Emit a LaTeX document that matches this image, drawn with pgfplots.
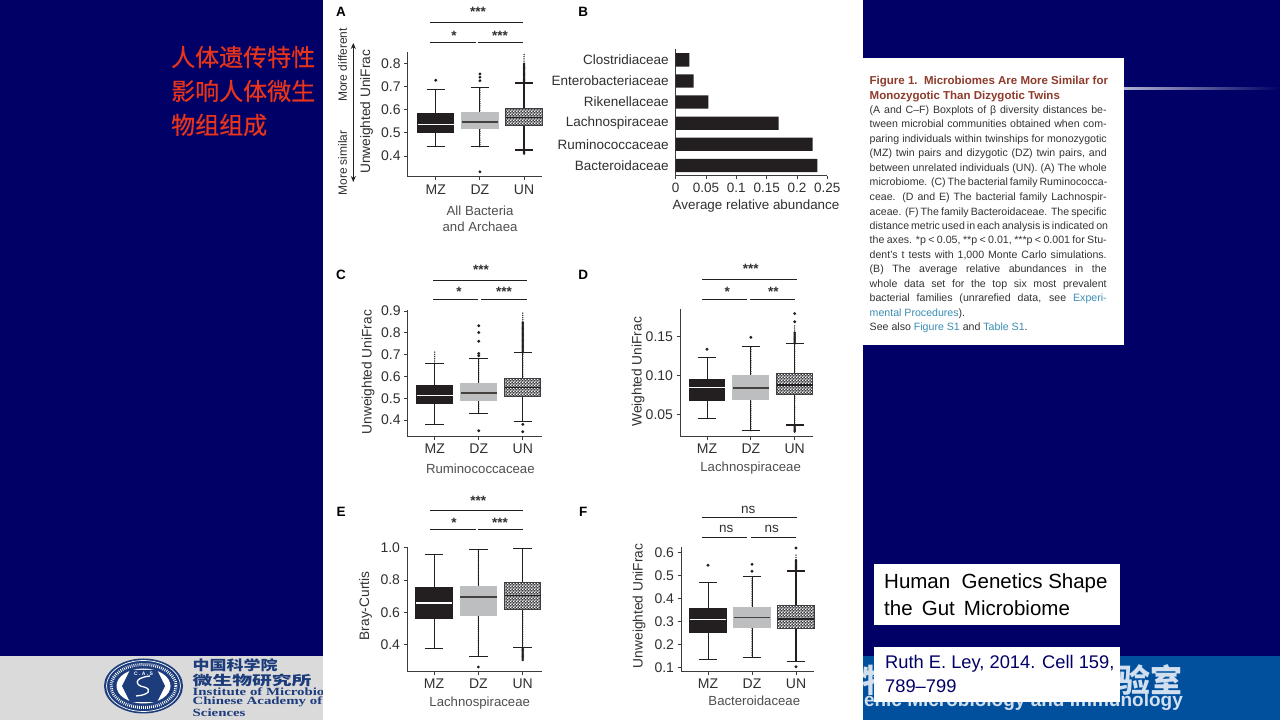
\documentclass[border=0pt]{standalone}
\usepackage{graphicx}
\usepackage{fontspec}
\usepackage{pgfplots}
\pgfplotsset{compat=1.18}
\usepgfplotslibrary{statistics}
\usetikzlibrary{patterns,arrows.meta}
\setmainfont{Liberation Sans}
\newfontfamily\cjk{Noto Sans CJK SC}
\newfontfamily\cjkm[FakeBold=0.4]{Noto Sans CJK SC}
\newfontfamily\srf{Liberation Serif}
\definecolor{navybg}{HTML}{000066}
\definecolor{bandblue}{HTML}{00509E}
\definecolor{bandgray}{HTML}{DADADA}
\definecolor{txt}{HTML}{303032}
\definecolor{axc}{HTML}{3C3C3C}
\definecolor{mzc}{HTML}{231F20}
\definecolor{dzc}{HTML}{BDBEC0}
\definecolor{unc}{HTML}{3E3E42}
\definecolor{capc}{HTML}{333333}
\definecolor{capt}{HTML}{8E3B2C}
\definecolor{lnk}{HTML}{3A8DB5}
\definecolor{logoc}{HTML}{1C3C7C}
\definecolor{redt}{HTML}{E8341A}
\newcommand{\fs}[2]{\fontsize{#1}{#2}\selectfont}
\pgfdeclarepatternformonly{chk}{\pgfqpoint{0pt}{0pt}}{\pgfqpoint{2.8pt}{2.8pt}}{\pgfqpoint{2.8pt}{2.8pt}}{%
 \pgfpathrectangle{\pgfqpoint{0pt}{0pt}}{\pgfqpoint{1.5pt}{1.5pt}}%
 \pgfpathrectangle{\pgfqpoint{1.4pt}{1.4pt}}{\pgfqpoint{1.4pt}{1.4pt}}%
 \pgfusepath{fill}}
\pgfplotsset{
 pan/.style={scale only axis,anchor=south west,axis lines=left,enlargelimits=false,clip=false,
  axis line style={-,draw=axc,line width=1pt},
  tick style={draw=axc,line width=.9pt},tick align=outside,major tick length=3.5pt,
  xtick={0,1,2},xticklabels={MZ,DZ,UN},
  tick label style={font=\fs{14}{16},text=txt},
  xtick pos=left,ytick pos=left,
  boxplot/draw direction=y,boxplot/box extend=.82,boxplot/whisker extend=.42},
 ylab/.style n args={3}{ylabel={#1},every axis y label/.style={at={(axis description cs:#2,#3)},rotate=90,anchor=center,font=\fs{13.7}{15.5},text=txt}},
 xlb/.style 2 args={every axis x label/.style={at={(axis description cs:#1,#2)},anchor=center,align=center,font=\fs{13.2}{15.5},text=txt!85!white}},
 outl/.style={mark=*,mark size=.9pt,mark options={fill=mzc,draw=mzc,solid}},
 mzb/.style={draw=mzc,line width=1pt,outl,
  boxplot/every box/.style={draw=mzc,fill=mzc},
  boxplot/every median/.style={draw=white,line width=1.2pt},
  boxplot/every whisker/.style={draw=mzc,line width=1pt}},
 dzb/.style={draw=mzc,line width=1pt,outl,
  boxplot/every box/.style={draw=dzc,fill=dzc},
  boxplot/every median/.style={draw=mzc!85!white,line width=1.2pt},
  boxplot/every whisker/.style={draw=mzc,line width=1pt}},
 unb/.style={draw=mzc,line width=1pt,outl,
  boxplot/every box/.style={draw=unc,fill=unc,postaction={pattern=chk,pattern color=white}},
  boxplot/every median/.style={draw=mzc,line width=1.2pt},
  boxplot/every whisker/.style={draw=mzc,line width=1.2pt}},
 bead/.style={mzc,line width=1.5pt,line cap=round,dash pattern=on 0pt off 2.2pt,forget plot},
 dense/.style={mzc,line width=2.6pt,line cap=round,dash pattern=on 0pt off 1.2pt,forget plot},
 gapl/.style={white,line width=1.4pt,dash pattern=on 1.2pt off 6pt,forget plot},
}
% pos, low whisker, q1, median, q3, up whisker, style, outliers
\newcommand{\bx}[8]{\addplot[#7,boxplot prepared={draw position=#1,lower whisker=#2,lower quartile=#3,median=#4,upper quartile=#5,upper whisker=#6}] coordinates {#8};}
\newcommand{\beads}[3]{\addplot[bead] coordinates {(#1,#2) (#1,#3)};}
\newcommand{\dens}[3]{\addplot[dense] coordinates {(#1,#2) (#1,#3)};}
\newcommand{\gapl}[3]{\addplot[gapl] coordinates {(#1,#2) (#1,#3)};}
\newcommand{\Stars}[3]{\node[anchor=base,inner sep=0,text=txt] at (#1,720-#2-7.5) {\fs{13.5}{15}\bfseries #3};}
\newcommand{\Ns}[3]{\node[inner sep=0,text=txt] at (#1,720-#2) {\fs{13.5}{15}#3};}
\newcommand{\Hl}[3]{\draw[mzc,line width=.9pt] (#1,720-#3) -- (#2,720-#3);}
\newcommand{\Let}[3]{\node[inner sep=0,text=black] at (#1,720-#2) {\fs{13.5}{15}\bfseries #3};}
\newcommand{\Jl}[2]{\node[anchor=base west,inner sep=0,text=capc] at (869.5,720-#1-3.5) {\fs{10.6}{12}\makebox[237pt][s]{#2}};}
\newcommand{\Ll}[2]{\node[anchor=base west,inner sep=0,text=capc] at (869.5,720-#1-3.5) {\fs{10.6}{12}#2};}
\newcommand{\Tl}[2]{\node[anchor=base west,inner sep=0,text=capt] at (869.5,720-#1-3.5) {\fs{11.5}{12}\bfseries #2};}
\begin{document}
\begin{tikzpicture}[x=1pt,y=1pt]
\clip (0,0) rectangle (1280,720);
\fill[navybg] (0,0) rectangle (1280,720);
% bottom bands
\fill[bandgray] (0,0) rectangle (323,64);
\fill[bandblue] (863,0) rectangle (1280,64);
\shade[left color=white!70!navybg,right color=navybg] (1124,630.6) rectangle (1280,632.6);
% logo
\fill[logoc] (143.5,34) ellipse [x radius=39.5,y radius=27.5];
\draw[white,line width=.7pt] (143.5,34) ellipse [x radius=37,y radius=25.5];
\draw[white,line width=3pt,dash pattern=on .8pt off 1.2pt] (143.5,34) ellipse [x radius=32.5,y radius=21.5];
\fill[white] (143.5,34) ellipse [x radius=27,y radius=17.5];
\fill[logoc] (122,34) -- (130,50) -- (157,50) -- (165,34) -- (157,18) -- (130,18) -- cycle;
\draw[white,line width=1.3pt] (150,44) .. controls (132,42) and (136,34) .. (144,33) .. controls (152,31) and (150,25) .. (136,24);
\node[inner sep=0,text=white] at (143.5,46) {\fs{5}{6}\bfseries C . A . S};
% logo text
\node[anchor=west,inner sep=0,text=logoc] at (192.5,55) {\scalebox{1.25}[1]{\cjk\fs{13.6}{15}\bfseries 中国科学院}};
\node[anchor=west,inner sep=0,text=logoc] at (192.5,39.7) {\scalebox{1.5}[1]{\cjk\fs{13.2}{15}\bfseries 微生物研究所}};
\node[anchor=west,inner sep=0,text=logoc] at (192.5,28) {\scalebox{1.35}[1]{\srf\fs{11}{12}\bfseries Institute of Microbio}};
\node[anchor=west,inner sep=0,text=logoc] at (192.5,18) {\scalebox{1.35}[1]{\srf\fs{11}{12}\bfseries Chinese Academy of}};
\node[anchor=west,inner sep=0,text=logoc] at (192.5,7) {\scalebox{1.35}[1]{\srf\fs{11}{12}\bfseries Sciences}};
% right band text
\node[anchor=east,inner sep=0,text=white!82!bandblue] at (1183,40) {\cjk\fs{32}{34}\bfseries 物与免疫学重点实验室};
\node[anchor=east,inner sep=0,text=white!82!bandblue] at (1183,18) {\fs{19}{21}\bfseries enic Microbiology and Immunology};
% white panels
\fill[white] (323,0) rectangle (863,720);
\fill[white] (863,375) rectangle (1124,662);
\fill[white] (874,95) rectangle (1120,156);
\fill[white] (874,18) rectangle (1120,73);
% red title
\node[anchor=west,inner sep=0,text=redt] at (171,663) {\cjkm\fs{24}{26}人体遗传特性};
\node[anchor=west,inner sep=0,text=redt] at (171,629) {\cjkm\fs{24}{26}影响人体微生};
\node[anchor=west,inner sep=0,text=redt] at (171,595) {\cjkm\fs{24}{26}物组组成};
% info boxes
\node[anchor=west,inner sep=0,text=black] at (884,137) {\fs{20.5}{22}Human\ \ Genetics Shape};
\node[anchor=west,inner sep=0,text=black] at (884,112) {\fs{20.5}{22}the\ \,Gut\ \,Microbiome};
\node[anchor=west,inner sep=0,text=navybg] at (885,56.5) {\fs{18.3}{20}Ruth E. Ley, 2014. Cell 159,};
\node[anchor=west,inner sep=0,text=navybg] at (885,34) {\fs{18.3}{20}789–799};
% caption
\Tl{80.7}{Figure 1.\ \ Microbiomes Are More Similar for}
\Tl{95.7}{Monozygotic Than Dizygotic Twins}
\Jl{110}{(A and C–F) Boxplots of β diversity distances be-}
\Jl{124.5}{tween microbial communities obtained when com-}
\Jl{139}{paring individuals within twinships for monozygotic}
\Jl{153.5}{(MZ) twin pairs and dizygotic (DZ) twin pairs, and}
\Jl{168}{between unrelated individuals (UN). (A) The whole}
\Jl{182.5}{microbiome. (C) The bacterial family Ruminococca-}
\Jl{197}{ceae. (D and E) The bacterial family Lachnospir-}
\Jl{211.7}{aceae. (F) The family Bacteroidaceae. The specific}
\Jl{226}{distance metric used in each analysis is indicated on}
\Jl{240.5}{the axes. *p < 0.05, **p < 0.01, ***p < 0.001 for Stu-}
\Jl{255}{dent's t tests with 1,000 Monte Carlo simulations.}
\Jl{269.5}{(B) The average relative abundances in the}
\Jl{284}{whole data set for the top six most prevalent}
\Jl{298}{bacterial families (unrarefied data, see \textcolor{lnk}{Experi-}}
\Ll{313}{\textcolor{lnk}{mental Procedures}).}
\Ll{327}{See also \textcolor{lnk}{Figure S1} and \textcolor{lnk}{Table S1}.}
% panel letters
\Let{341}{11.7}{A}\Let{583.3}{11.7}{B}\Let{341}{275}{C}\Let{583.3}{275}{D}\Let{341}{511.7}{E}\Let{583.3}{511.7}{F}
% significance A
\Stars{478}{9.3}{***}\Hl{430}{523.3}{22.7}\Stars{454}{32.7}{*}\Stars{500}{32.7}{***}\Hl{430}{476}{42.3}\Hl{477.7}{523.3}{42.3}
% C
\Stars{481}{267.3}{***}\Hl{433.3}{526.7}{280.3}\Stars{459}{288.7}{*}\Stars{504}{288.7}{***}\Hl{433.3}{478.3}{299}\Hl{481}{526.7}{299}
% D
\Stars{750.7}{266}{***}\Hl{702.3}{796.7}{279.3}\Stars{727.3}{288.7}{*}\Stars{773.3}{288.7}{**}\Hl{702.3}{747.3}{299}\Hl{750}{795}{299}
% E
\Stars{478.3}{497.7}{***}\Hl{430}{523}{510}\Stars{454}{520.3}{*}\Stars{500}{520.3}{***}\Hl{430}{476}{529.7}\Hl{477.7}{523}{529.7}
% F
\Ns{748.3}{509.7}{ns}\Hl{702.3}{796.7}{517.7}\Ns{726.3}{529.3}{ns}\Ns{771.7}{529.3}{ns}\Hl{702.3}{747.3}{537.3}\Hl{751}{796.3}{537.3}
% arrow A
\draw[{Stealth[length=6pt,width=5pt]}-{Stealth[length=6pt,width=5pt]},mzc,line width=1pt] (353.3,720-43) -- (353.3,720-182);
\node[rotate=90,inner sep=0,text=txt] at (342.7,720-65) {\fs{12}{14}More different};
\node[rotate=90,inner sep=0,text=txt] at (342.7,720-163) {\fs{12}{14}More similar};

% Panel A
\begin{axis}[pan,at={(407.7pt,543.3pt)},width=134pt,height=125pt,xmin=-.637,xmax=2.40,ymin=.311,ymax=.85,
 ytick={.4,.5,.6,.7,.8},yticklabels={0.4,0.5,0.6,0.7,0.8},
 ylab={Unweighted UniFrac}{-.306}{.52},
 xlabel={All Bacteria\\and Archaea},xlb={.54}{-.338},xticklabel style={yshift=-1.5pt}]
\gapl{0}{.44}{.5}\gapl{0}{.585}{.69}
\beads{1}{.44}{.517}\beads{1}{.588}{.694}
\beads{2}{.426}{.531}\beads{2}{.606}{.715}\dens{2}{.715}{.80}\beads{2}{.80}{.846}\dens{2}{.41}{.426}
\bx{0}{.44}{.501}{.537}{.584}{.689}{mzb}{(0,.727)}
\bx{1}{.44}{.517}{.547}{.588}{.694}{dzb}{(1,.754)(1,.74)(1,.725)(1,.332)}
\bx{2}{.426}{.531}{.567}{.606}{.715}{unb}{}
\end{axis}

% Panel B
\begin{axis}[scale only axis,anchor=south west,at={(675.7pt,544pt)},width=151.6pt,height=126.7pt,
 axis lines=left,axis line style={-,draw=axc,line width=1pt},
 xbar,bar width=13.3pt,xmin=0,xmax=.25,ymin=-.5,ymax=5.5,
 xtick={0,.05,.1,.15,.2,.25},xticklabels={0,0.05,0.1,0.15,0.2,0.25},
 ytick={0,1,2,3,4,5},yticklabels={Bacteroidaceae,Ruminococcaceae,Lachnospiraceae,Rikenellaceae,Enterobacteriaceae,Clostridiaceae},
 minor ytick={-.5,.5,1.5,2.5,3.5,4.5,5.5},
 tick align=outside,major tick length=3.5pt,minor tick length=3.5pt,
 ytick style={draw=none},minor tick style={draw=axc,line width=.9pt},xtick style={draw=axc,line width=.9pt},
 xtick pos=left,ytick pos=left,
 tick label style={font=\fs{13.5}{15},text=txt},
 xlabel={Average relative abundance},every axis x label/.style={at={(axis description cs:.53,-.234)},anchor=center,font=\fs{13.4}{15},text=txt}]
\addplot[fill=mzc,draw=none] coordinates {(.2335,0)(.2258,1)(.1698,2)(.0538,3)(.0297,4)(.0225,5)};
\end{axis}

% Panel C
\begin{axis}[pan,at={(407.7pt,283.3pt)},width=134.6pt,height=126.7pt,xmin=-.613,xmax=2.443,ymin=.3235,ymax=.905,
 ytick={.4,.5,.6,.7,.8,.9},yticklabels={0.4,0.5,0.6,0.7,0.8,0.9},
 ylab={Unweighted UniFrac}{-.295}{.51},
 xlabel={Ruminococcaceae},xlb={.54}{-.255}]
\gapl{0}{.38}{.478}\gapl{0}{.557}{.661}\beads{0}{.661}{.713}
\beads{1}{.432}{.489}\beads{1}{.568}{.684}
\gapl{2}{.395}{.506}\beads{2}{.591}{.71}\dens{2}{.71}{.85}\beads{2}{.85}{.892}
\bx{0}{.38}{.478}{.513}{.557}{.661}{mzb}{}
\bx{1}{.432}{.489}{.524}{.568}{.684}{dzb}{(1,.833)(1,.802)(1,.762)(1,.705)(1,.695)(1,.351)}
\bx{2}{.395}{.506}{.55}{.591}{.71}{unb}{(2,.38)(2,.346)}
\end{axis}

% Panel D
\begin{axis}[pan,at={(680pt,283.3pt)},width=133.3pt,height=127.4pt,xmin=-.616,xmax=2.424,ymin=.0219,ymax=.1845,
 ytick={.05,.1,.15},yticklabels={0.05,0.10,0.15},
 ylab={Weighted UniFrac}{-.315}{.51},
 xlabel={Lachnospiraceae},xlb={.53}{-.248}]
\gapl{0}{.0445}{.0687}\gapl{0}{.0951}{.1236}
\beads{1}{.0296}{.07}\beads{1}{.0994}{.1368}
\beads{2}{.0368}{.0755}\beads{2}{.1028}{.141}\dens{2}{.141}{.155}\beads{2}{.155}{.1645}\dens{2}{.0283}{.0368}
\bx{0}{.0445}{.0687}{.0845}{.0951}{.1236}{mzb}{(0,.1334)}
\bx{1}{.0296}{.07}{.084}{.0994}{.1368}{dzb}{(1,.1487)}
\bx{2}{.0368}{.0755}{.0879}{.1028}{.141}{unb}{(2,.1687)(2,.179)}
\end{axis}

% Panel E
\begin{axis}[pan,at={(407pt,48.3pt)},width=134.7pt,height=125pt,xmin=-.609,xmax=2.428,ymin=.233,ymax=1.006,
 ytick={.4,.6,.8,1},yticklabels={0.4,0.6,0.8,1.0},
 ylab={Bray-Curtis}{-.307}{.526},
 xlabel={Lachnospiraceae},xlb={.54}{-.253}]
\gapl{0}{.375}{.565}\gapl{0}{.7526}{.955}
\beads{1}{.33}{.5835}\beads{1}{.761}{.988}
\beads{2}{.3835}{.62}\gapl{2}{.7835}{.996}\dens{2}{.305}{.3835}
\bx{0}{.375}{.565}{.658}{.7526}{.955}{mzb}{}
\bx{1}{.33}{.5835}{.695}{.761}{.988}{dzb}{(1,.262)}
\bx{2}{.3835}{.62}{.705}{.7835}{.996}{unb}{}
\end{axis}

% Panel F
\begin{axis}[pan,at={(681pt,48.3pt)},width=133.3pt,height=125pt,xmin=-.614,xmax=2.416,ymin=.081,ymax=.626,
 ytick={.1,.2,.3,.4,.5,.6},yticklabels={0.1,0.2,0.3,0.4,0.5,0.6},
 ylab={Unweighted UniFrac}{-.315}{.526},
 xlabel={Bacteroidaceae},xlb={.55}{-.234}]
\gapl{0}{.136}{.251}\gapl{0}{.357}{.469}
\beads{1}{.1436}{.273}\beads{1}{.3616}{.494}
\gapl{2}{.126}{.2686}\beads{2}{.37}{.52}\dens{2}{.52}{.57}\beads{2}{.57}{.597}
\bx{0}{.136}{.251}{.308}{.357}{.469}{mzb}{(0,.545)}
\bx{1}{.1436}{.273}{.3166}{.3616}{.494}{dzb}{(1,.549)(1,.5186)}
\bx{2}{.126}{.2686}{.311}{.37}{.52}{unb}{(2,.62)(2,.103)}
\end{axis}
\end{tikzpicture}
\end{document}
